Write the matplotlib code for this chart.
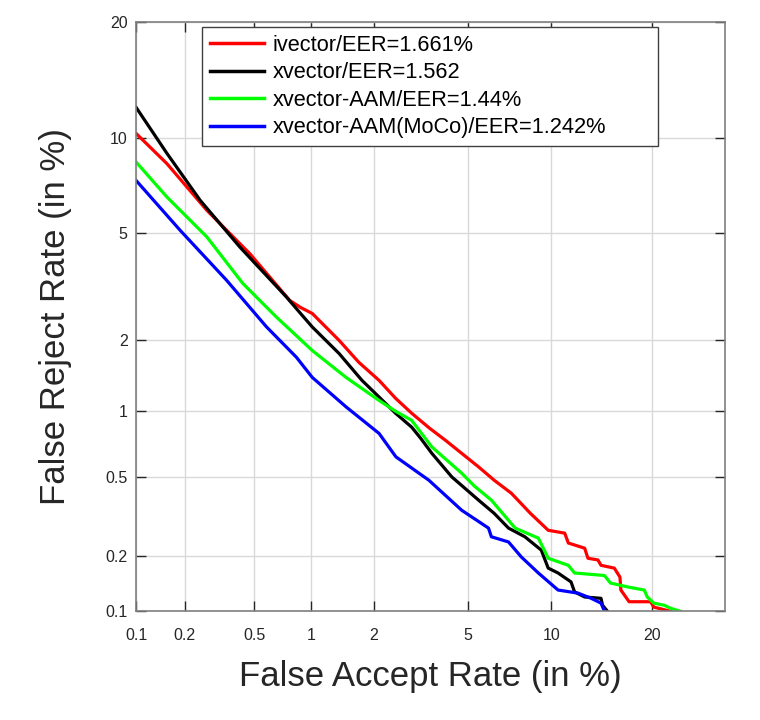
from statistics import NormalDist

import matplotlib

matplotlib.use("Agg")
import matplotlib.pyplot as plt
import numpy as np

# DET curve points, in percent (FAR, FRR)
ivec_far = [0.1, 0.156, 0.27, 0.473, 0.774, 0.88, 1.01, 1.37, 1.7, 2.11, 2.5, 2.94, 3.5, 4.07,
            5.5, 6.3, 7.28, 8.5, 9.77, 11.07, 11.37, 12.8, 13.1, 14.05, 14.35, 15.7, 16.3, 16.4,
            17.3, 19.8, 20.2, 22.3]
ivec_frr = [10.28, 8.36, 5.95, 4.23, 2.85, 2.68, 2.54, 1.99, 1.62, 1.36, 1.14, 0.98, 0.84,
            0.74, 0.556, 0.48, 0.415, 0.33, 0.271, 0.262, 0.233, 0.219, 0.194, 0.19, 0.178,
            0.172, 0.154, 0.131, 0.113, 0.113, 0.1055, 0.1]

xvec_far = [0.1, 0.156, 0.247, 0.417, 0.743, 0.85, 1.01, 1.37, 1.76, 2.11, 2.5, 2.94, 3.2,
            3.58, 4.32, 5.5, 6.3, 7.11, 8.13, 9.26, 9.77, 10.53, 11.6, 11.9, 12.8, 14.35, 14.5,
            15.0]
xvec_frr = [12.18, 8.98, 6.41, 4.46, 2.94, 2.62, 2.25, 1.76, 1.36, 1.154, 0.98, 0.849, 0.76,
            0.644, 0.498, 0.384, 0.33, 0.278, 0.251, 0.214, 0.172, 0.162, 0.145, 0.128, 0.12,
            0.118, 0.108, 0.1]

aam_far = [0.1, 0.156, 0.27, 0.433, 0.659, 1.01, 1.48, 2.11, 2.5, 2.94, 3.58, 4.73, 5.3, 6.15,
           7.51, 9.05, 9.77, 11.37, 11.9, 14.7, 15.3, 17.2, 19.05, 19.4, 20.2, 21.5, 22.3, 23.6]
aam_frr = [8.46, 6.57, 4.84, 3.3, 2.46, 1.81, 1.4, 1.115, 1.0, 0.911, 0.689, 0.519, 0.45, 0.384,
           0.278, 0.247, 0.194, 0.178, 0.162, 0.157, 0.143, 0.136, 0.131, 0.12, 0.111, 0.108,
           0.104, 0.1]

moco_far = [0.1, 0.188, 0.351, 0.584, 0.838, 1.01, 1.48, 2.11, 2.51, 3.48, 4.73, 6.0, 6.15,
            7.11, 7.9, 9.05, 10.53, 12.2, 13.4, 14.35, 14.7]
moco_frr = [7.42, 5.09, 3.39, 2.25, 1.7, 1.4, 1.045, 0.795, 0.62, 0.48, 0.342, 0.278, 0.251,
            0.236, 0.197, 0.162, 0.131, 0.126, 0.118, 0.111, 0.1]

labels = ["ivector/EER=1.661%", "xvector/EER=1.562", "xvector-AAM/EER=1.44%",
          "xvector-AAM(MoCo)/EER=1.242%"]
colors = ["#ff0000", "#000000", "#00ff00", "#0000ff"]
ticks = [0.1, 0.2, 0.5, 1, 2, 5, 10, 20]
tick_labels = ["0.1", "0.2", "0.5", "1", "2", "5", "10", "20"]

_nd = NormalDist()


def _ppf(p):
    p = np.asarray(p, dtype=float)
    p = np.clip(p / 100.0, 1e-9, 1 - 1e-9)
    return np.vectorize(_nd.inv_cdf, otypes=[float])(p) if p.size else p


def _cdf(z):
    z = np.asarray(z, dtype=float)
    return 100.0 * np.vectorize(_nd.cdf, otypes=[float])(z) if z.size else z


plt.rcParams["font.family"] = ["Liberation Sans", "DejaVu Sans"]

fig = plt.figure(figsize=(7.6, 7.2), dpi=100)
ax = fig.add_axes([0.179, 0.151, 0.775, 0.818])

for far, frr, lab, col in zip([ivec_far, xvec_far, aam_far, moco_far],
                              [ivec_frr, xvec_frr, aam_frr, moco_frr], labels, colors):
    ax.plot(far, frr, color=col, lw=2.3, label=lab)

ax.set_xscale("function", functions=(_ppf, _cdf))
ax.set_yscale("function", functions=(_ppf, _cdf))
ax.set_xlim(0.1, 30)
ax.set_ylim(0.1, 20)
ax.set_xticks(ticks)
ax.set_xticklabels(tick_labels)
ax.set_yticks(ticks)
ax.set_yticklabels(tick_labels)
ax.minorticks_off()

ax.grid(True, color="#d9d9d9", lw=1)
ax.set_axisbelow(True)
ax.tick_params(direction="in", length=7, width=1, top=True, right=True,
               labelsize=11.5, colors="#262626")
ax.tick_params(axis="x", pad=12)
ax.tick_params(axis="y", pad=6)
for sp in ax.spines.values():
    sp.set_color("#7f7f7f")
    sp.set_linewidth(1.2)

ax.set_xlabel("False Accept Rate (in %)", fontsize=25, labelpad=12, color="#262626")
ax.set_ylabel("False Reject Rate (in %)", fontsize=25, labelpad=24, color="#262626")

leg = ax.legend(loc="upper left", bbox_to_anchor=(0.112, 0.992, 0.774, 0.0), mode="expand",
                borderaxespad=0, fontsize=15.7, handlelength=2.5, handletextpad=0.4,
                labelspacing=0.3, fancybox=False, framealpha=1, borderpad=0.35)
leg.get_frame().set_edgecolor("#404040")
leg.get_frame().set_linewidth(1)
for line in leg.get_lines():
    line.set_linewidth(2.5)

fig.savefig("out.png", dpi=100)
